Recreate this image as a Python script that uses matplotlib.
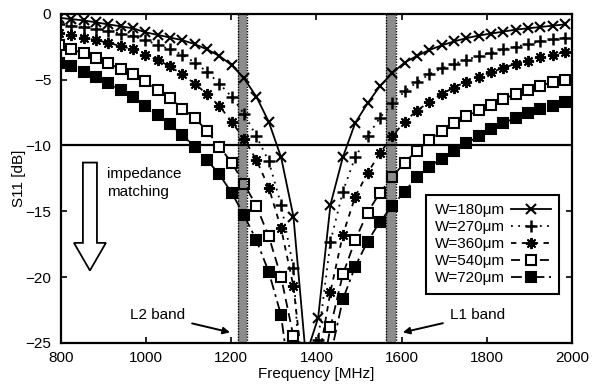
import numpy as np
import matplotlib

matplotlib.use("Agg")
import matplotlib.pyplot as plt
from matplotlib.patches import FancyArrow

plt.rcParams["font.family"] = ["Liberation Sans", "DejaVu Sans"]
plt.rcParams["font.size"] = 11

# measurement grid (MHz) shared by all five traces
freq = np.arange(795, 1985, 29)

# S11 [dB], one list per slot width
w180 = [-0.3, -0.4, -0.5, -0.65, -0.8, -0.95, -1.1, -1.4, -1.6, -1.8,
        -2.0, -2.3, -2.7, -3.2, -3.9, -4.9, -6.3, -8.2, -10.9, -15.4,
        -26.0, -23.1, -14.5, -10.9, -8.3, -6.8, -5.5, -4.5, -3.7, -3.2,
        -2.75, -2.4, -2.1, -1.85, -1.65, -1.5, -1.35, -1.2, -1.1, -1.0,
        -0.9, -0.8]
w270 = [-0.8, -0.9, -1.0, -1.15, -1.3, -1.5, -1.7, -2.0, -2.35, -2.7,
        -3.1, -3.7, -4.4, -5.3, -6.3, -7.6, -9.3, -11.2, -14.5, -19.3,
        -35.0, -24.8, -17.3, -13.5, -10.9, -9.3, -7.9, -6.8, -5.9, -5.2,
        -4.6, -4.15, -3.8, -3.5, -3.2, -2.95, -2.7, -2.5, -2.3, -2.1,
        -1.95, -1.8]
w360 = [-1.45, -1.6, -1.8, -2.0, -2.2, -2.45, -2.7, -3.1, -3.5, -4.0,
        -4.6, -5.3, -6.1, -7.0, -8.2, -9.5, -11.1, -13.2, -16.3, -20.7,
        -29.0, -26.5, -21.1, -16.8, -13.9, -12.1, -10.6, -9.3, -8.2, -7.35,
        -6.7, -6.1, -5.6, -5.15, -4.8, -4.45, -4.1, -3.8, -3.55, -3.3,
        -3.1, -2.9]
w540 = [-2.4, -2.7, -3.0, -3.35, -3.75, -4.2, -4.6, -5.1, -5.8, -6.4,
        -7.2, -7.9, -8.9, -10.1, -11.3, -12.9, -14.6, -16.9, -20.0, -24.5,
        -31.0, -29.0, -23.8, -19.8, -17.2, -15.1, -13.6, -12.4, -11.3, -10.4,
        -9.6, -8.9, -8.3, -7.8, -7.3, -6.9, -6.45, -6.1, -5.8, -5.45,
        -5.2, -5.0]
w720 = [-3.7, -4.0, -4.4, -4.8, -5.25, -5.8, -6.3, -7.0, -7.7, -8.4,
        -9.2, -10.1, -11.1, -12.2, -13.6, -15.3, -17.2, -19.6, -22.9, -30.0,
        -40.0, -35.0, -26.0, -21.7, -19.2, -17.3, -15.8, -14.6, -13.5, -12.4,
        -11.6, -11.0, -10.4, -9.85, -9.3, -8.75, -8.3, -7.9, -7.55, -7.2,
        -7.0, -6.7]

labels = ["W=180\u03bcm", "W=270\u03bcm", "W=360\u03bcm", "W=540\u03bcm", "W=720\u03bcm"]

# GPS bands (MHz)
l2_band = (1216, 1238)
l1_band = (1564, 1586)
threshold = -10

fig = plt.figure(figsize=(5.92, 3.84), dpi=100)
ax = fig.add_axes([0.103, 0.107, 0.863, 0.857])

styles = [
    dict(ls="-", marker="x", mfc="k", ms=7.2, mew=1.5),
    dict(ls=(0, (1, 3)), marker="+", mfc="k", ms=8, mew=1.8),
    dict(ls=(0, (3, 3)), marker=(8, 2, 0), mfc="k", ms=8, mew=1.4),
    dict(ls=(0, (5, 3)), marker="s", mfc="white", ms=6.8, mew=1.5),
    dict(ls=(0, (6, 2.5, 1.5, 2.5)), marker="s", mfc="k", ms=6.8, mew=1.5),
]
for vals, lab, st in zip([w180, w270, w360, w540, w720], labels, styles):
    ax.plot(freq, vals, color="k", mec="k", lw=1.3, label=lab, zorder=3, **st)

ax.axhline(threshold, color="k", lw=1.6, zorder=2.5)

for lo, hi in (l2_band, l1_band):
    ax.axvspan(lo, hi, color="k", alpha=0.45, lw=0, zorder=4)
    for edge in (lo, hi):
        ax.axvline(edge, color="k", lw=1.0, ls=(0, (1, 1)), zorder=4)

# hollow "impedance matching" arrow
ax.add_patch(FancyArrow(868, -11.3, 0, -8.2, width=33, head_width=75,
                        head_length=2.1, length_includes_head=True,
                        fc="white", ec="k", lw=1.3, zorder=5))
ax.text(908, -12.85, "impedance\nmatching", ha="left", va="center",
        linespacing=1.3)

ax.annotate("L2 band", xy=(1197, -24.2), xytext=(1092, -22.9),
            ha="right", va="center",
            arrowprops=dict(arrowstyle="-|>", color="k", lw=1.4,
                            mutation_scale=10, shrinkA=3, shrinkB=0))
ax.annotate("L1 band", xy=(1603, -24.2), xytext=(1713, -22.9),
            ha="left", va="center",
            arrowprops=dict(arrowstyle="-|>", color="k", lw=1.4,
                            mutation_scale=10, shrinkA=3, shrinkB=0))

ax.set_xlim(800, 2000)
ax.set_ylim(-25, 0)
ax.set_xticks(range(800, 2001, 200))
ax.set_yticks(range(-25, 1, 5))
ax.tick_params(direction="in", length=4, width=1.2, top=True, right=True,
               labelsize=11)
ax.tick_params(axis="x", pad=6)
ax.tick_params(axis="y", pad=7)
for sp in ax.spines.values():
    sp.set_linewidth(1.6)

ax.set_xlabel("Frequency [MHz]", fontsize=11)
ax.xaxis.set_label_coords(0.5, -0.072)
ax.set_ylabel("S11 [dB]", fontsize=11)
ax.yaxis.set_label_coords(-0.068, 0.5)

leg = ax.legend(loc="upper right", bbox_to_anchor=(0.975, 0.45),
                borderaxespad=0, markerfirst=False, numpoints=1,
                handlelength=2.6, handletextpad=0.4, labelspacing=0.2,
                borderpad=0.55, fancybox=False, framealpha=1, fontsize=11)
leg.get_frame().set_edgecolor("k")
leg.get_frame().set_linewidth(1.5)
leg.set_zorder(6)

fig.savefig("out.png", dpi=100)
